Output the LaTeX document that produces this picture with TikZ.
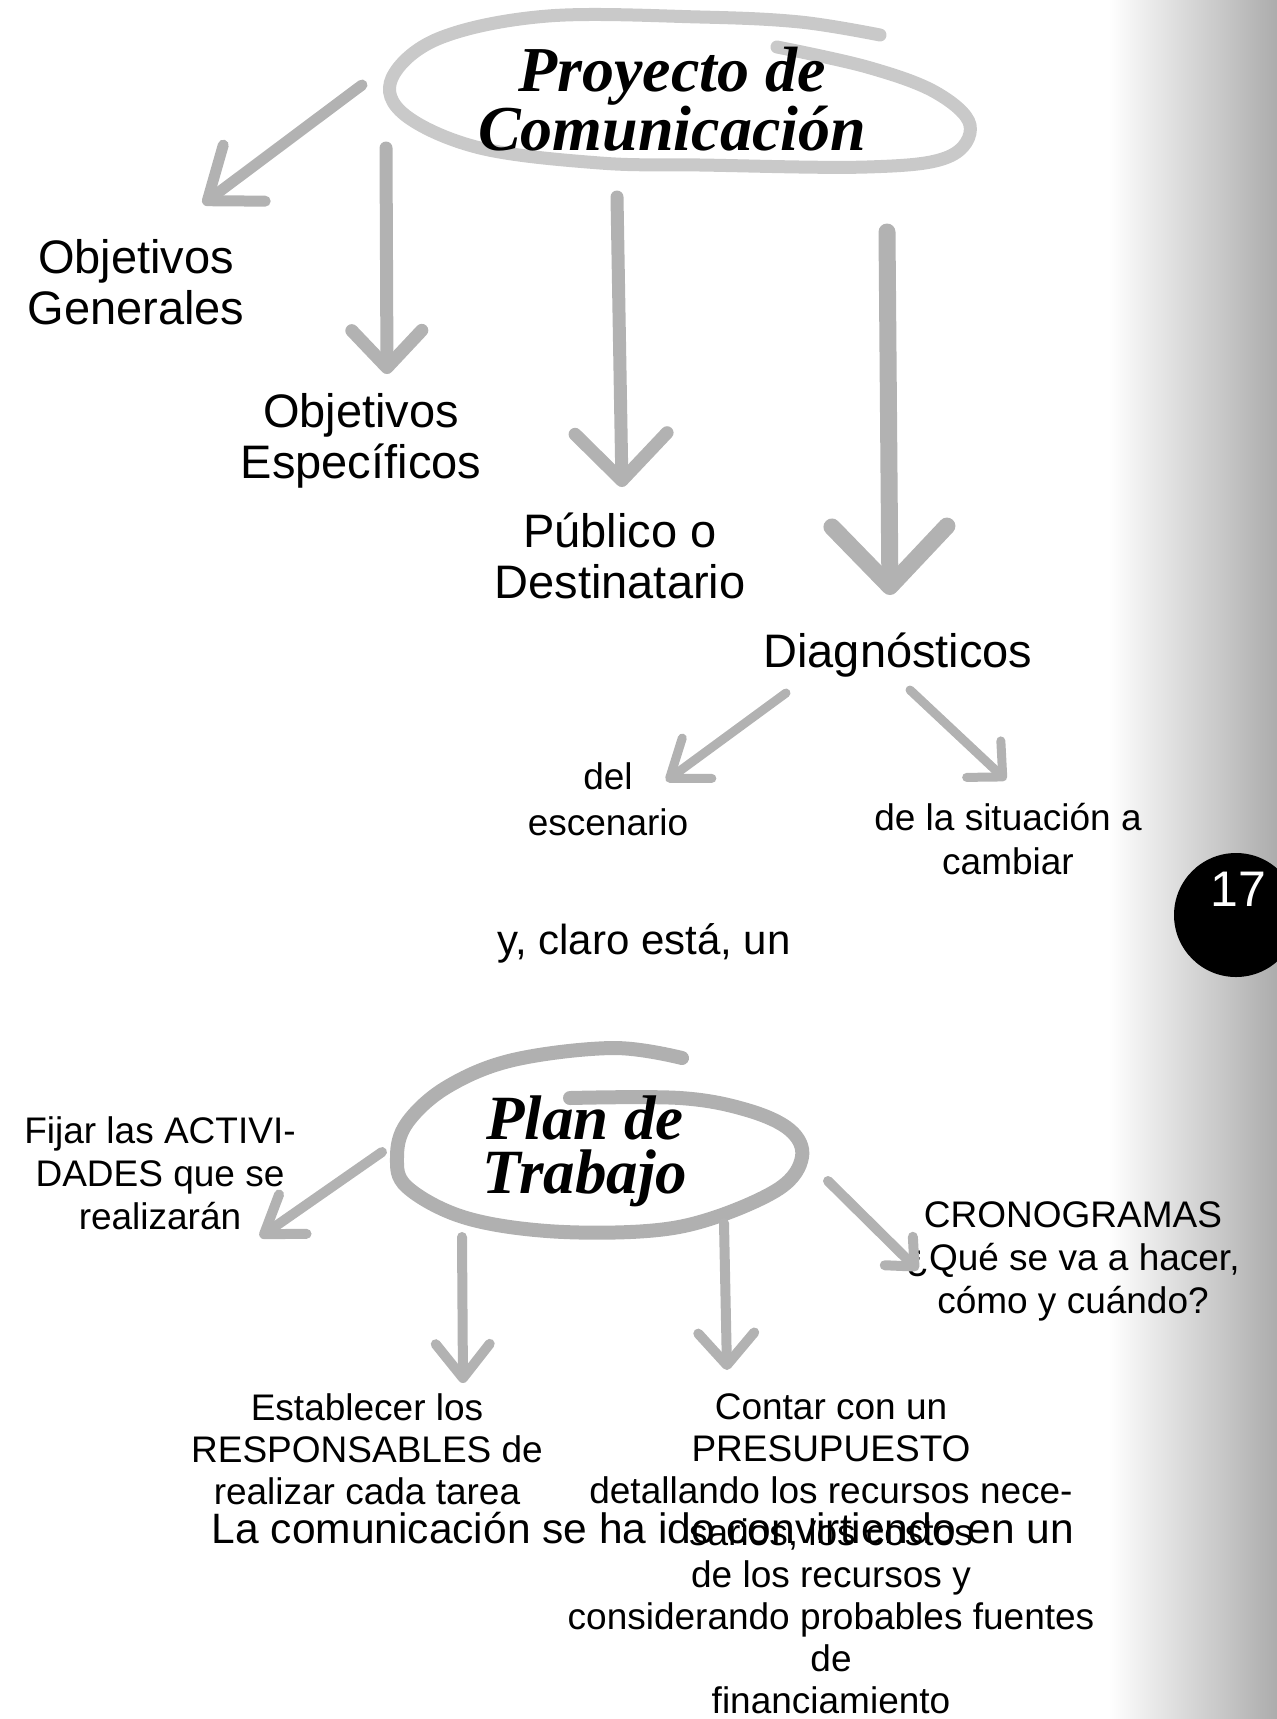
\documentclass[tikz,border=0pt]{standalone}
\usepackage{fontspec}
\setmainfont{Liberation Sans}
\newfontfamily\titlefont{Liberation Serif}
\usetikzlibrary{arrows.meta,shapes}
\definecolor{arrowgray}{gray}{0.70}
\definecolor{loopgray}{gray}{0.79}
\definecolor{plangray}{gray}{0.69}
\tikzset{hand/.style n args={3}{draw=arrowgray,line width=#1pt,line cap=round,-{Straight Barb[length=#2pt,width=#3pt,round]}},
  bigtext/.style={inner sep=0pt,align=center,font=\fontsize{47}{51}\selectfont},
  smalltext/.style={inner sep=0pt,align=center,font=\fontsize{37}{43}\selectfont},
  headline/.style={inner sep=0pt,align=center,font=\titlefont\bfseries\itshape\fontsize{64}{55}\selectfont}}

\begin{document}
\begin{tikzpicture}[x=1pt,y=-1pt]
\useasboundingbox (0,0) rectangle (1277,1719);
\shade[left color=white,right color=gray!65] (1108,0) rectangle (1277,1719);
\node[circle,fill=black,minimum size=124pt,inner sep=0pt] (pg) at (1236,915) {};
\node[bigtext,text=white,anchor=base,font=\fontsize{50}{50}\selectfont] (num) at (1238,906) {17};

\draw[loopgray,line width=13pt,line cap=round] plot[smooth,tension=0.6] coordinates {(880,35) (800,22) (700,17) (548,16) (440,38) (392,78) (405,115) (480,148) (600,163) (700,165) (867,167) (948,157) (970,125) (935,92) (867,67) (777,47)};
\node[headline,anchor=north] (pc) at (672,47) {Proyecto de\\Comunicación};

\node[bigtext,anchor=north] (og) at (136,239) {Objetivos\\Generales};
\node[bigtext,anchor=north] (oe) at (361,393) {Objetivos\\Específicos};
\node[bigtext,anchor=north] (pd) at (620,513) {Público o\\Destinatario};
\node[bigtext,anchor=base] (dg) at (898,667) {Diagnósticos};
\node[smalltext,anchor=north,font=\fontsize{37}{46}\selectfont] (de) at (608,762) {del\\escenario};
\node[smalltext,anchor=north,font=\fontsize{37}{44}\selectfont] (ds) at (1008,803) {de la situación a\\cambiar};
\node[bigtext,anchor=base,font=\fontsize{42}{48}\selectfont] (yc) at (644,954) {y, claro está, un};

\coordinate (pc-og) at (362,85);
\coordinate (og-in) at (203,204);
\coordinate (pc-oe) at (386,148);
\coordinate (oe-in) at (387,374);
\coordinate (pc-pd) at (617,197);
\coordinate (pd-in) at (622,487);
\coordinate (pc-dg) at (887,232);
\coordinate (dg-in) at (890,595);
\coordinate (dg-de) at (786,693);
\coordinate (de-in) at (666,781);
\coordinate (dg-ds) at (910,690);
\coordinate (ds-in) at (1006,780);
\draw[hand={11}{46}{70}] (pc-og) -- (og-in);
\draw[hand={13}{37}{70}] (pc-oe) -- (oe-in);
\draw[hand={13}{47}{92}] (pc-pd) -- (pd-in);
\draw[hand={17}{60}{115}] (pc-dg) -- (dg-in);
\draw[hand={9}{34}{50}] (dg-de) -- (de-in);
\draw[hand={9}{26}{50}] (dg-ds) -- (ds-in);

\draw[plangray,line width=14pt,line cap=round] plot[smooth,tension=0.6] coordinates {(682,1058) (613,1048) (513,1060) (447,1087) (407,1123) (397,1157) (407,1187) (463,1217) (547,1231) (647,1231) (713,1218) (780,1188) (802,1157) (790,1130) (747,1110) (680,1098) (570,1098)};
\node[headline,anchor=north,font=\titlefont\bfseries\itshape\fontsize{63}{54}\selectfont] (pt) at (585,1096) {Plan de\\Trabajo};

\node[smalltext,anchor=north] (fa) at (160,1116) {Fijar las ACTIVI-\\DADES que se\\realizarán};
\node[smalltext,anchor=north] (cr) at (1073,1201) {CRONOGRAMAS\\¿Qué se va a hacer,\\cómo y cuándo?};
\node[smalltext,anchor=north,font=\fontsize{37}{42}\selectfont] (er) at (367,1393) {Establecer los\\RESPONSABLES de\\realizar cada tarea};
\node[smalltext,anchor=north,font=\fontsize{37}{42}\selectfont] (cp) at (831,1393) {Contar con un\\PRESUPUESTO\\detallando los recursos nece-\\sarios, los costos\\de los recursos y\\considerando probables fuentes\\de\\financiamiento};
\node[bigtext,anchor=base,font=\fontsize{42.5}{48}\selectfont] (lc) at (643,1543) {La comunicación se ha ido convirtiendo en un};

\coordinate (pt-fa) at (382,1152);
\coordinate (fa-in) at (260,1237);
\coordinate (pt-er) at (462,1237);
\coordinate (er-in) at (463,1383);
\coordinate (pt-cp) at (724,1223);
\coordinate (cp-in) at (727,1370);
\coordinate (pt-cr) at (828,1181);
\coordinate (cr-in) at (918,1270);
\draw[hand={10}{35}{48}] (pt-fa) -- (fa-in);
\draw[hand={10}{34}{54}] (pt-er) -- (er-in);
\draw[hand={10}{32}{56}] (pt-cp) -- (cp-in);
\draw[hand={10}{22}{40}] (pt-cr) -- (cr-in);
\end{tikzpicture}
\end{document}
